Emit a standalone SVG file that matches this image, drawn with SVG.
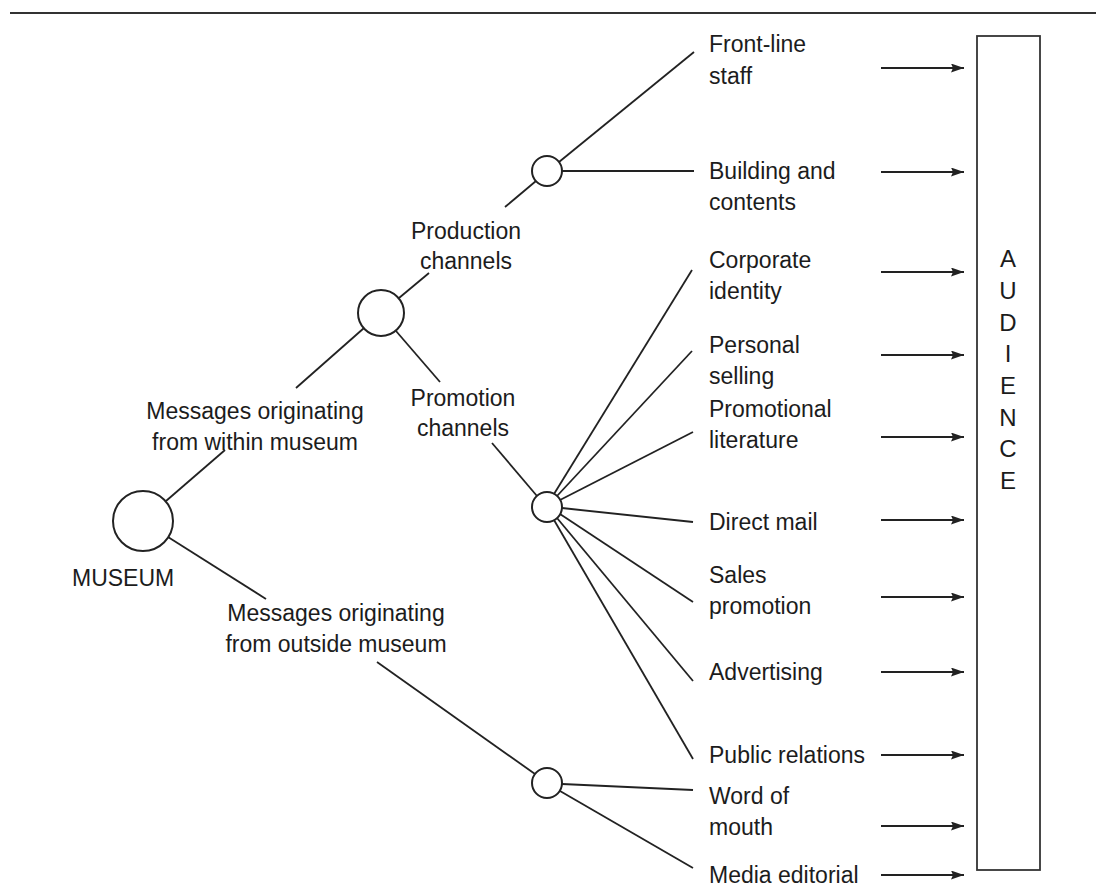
<svg xmlns="http://www.w3.org/2000/svg" width="1101" height="890" viewBox="0 0 1101 890">
<style>
.t{font-family:"Liberation Sans",Arial,sans-serif;font-size:23px;fill:#1c1c1c}
.c{text-anchor:middle}
.big{font-family:"Liberation Sans",Arial,sans-serif;font-size:24px;fill:#1c1c1c;text-anchor:middle}
.ln{stroke:#222;stroke-width:1.8;fill:none}
.nd{stroke:#222;stroke-width:2;fill:#fff}
.ar{stroke:#222;stroke-width:1.8;fill:none;marker-end:url(#ah)}
</style>
<defs>
<marker id="ah" markerUnits="userSpaceOnUse" markerWidth="13" markerHeight="9" refX="13" refY="4.5" orient="auto">
<path d="M0,0 L13,4.5 L0,9 L2,4.5 z" fill="#222"/>
</marker>
</defs>
<rect width="1101" height="890" fill="#fff"/>
<line x1="10" y1="13" x2="1096" y2="13" stroke="#333" stroke-width="2"/>

<g id="connectors">
<line class="ln" x1="166" y1="501" x2="225" y2="450"/>
<line class="ln" x1="296" y1="388" x2="364" y2="328"/>
<line class="ln" x1="168" y1="537" x2="266" y2="599"/>
<line class="ln" x1="377" y1="662" x2="535" y2="774"/>
<line class="ln" x1="399" y1="298" x2="429" y2="273"/>
<line class="ln" x1="505" y1="207" x2="536" y2="181"/>
<line class="ln" x1="396" y1="331" x2="440" y2="382"/>
<line class="ln" x1="492" y1="443" x2="537" y2="496"/>
<line class="ln" x1="559" y1="162" x2="694" y2="52"/>
<line class="ln" x1="562" y1="171" x2="694" y2="171"/>
<line class="ln" x1="554" y1="494" x2="692" y2="270"/>
<line class="ln" x1="557" y1="496" x2="692" y2="351"/>
<line class="ln" x1="560" y1="500" x2="693" y2="432"/>
<line class="ln" x1="562" y1="508" x2="693" y2="522"/>
<line class="ln" x1="560" y1="514" x2="693" y2="602"/>
<line class="ln" x1="557" y1="518" x2="693" y2="681"/>
<line class="ln" x1="554" y1="520" x2="693" y2="759"/>
<line class="ln" x1="562" y1="784" x2="693" y2="790"/>
<line class="ln" x1="560" y1="791" x2="693" y2="868"/>
<line class="ar" x1="881" y1="68" x2="964" y2="68"/>
<line class="ar" x1="881" y1="172" x2="964" y2="172"/>
<line class="ar" x1="881" y1="272" x2="964" y2="272"/>
<line class="ar" x1="881" y1="355" x2="964" y2="355"/>
<line class="ar" x1="881" y1="437" x2="964" y2="437"/>
<line class="ar" x1="881" y1="520" x2="964" y2="520"/>
<line class="ar" x1="881" y1="597" x2="964" y2="597"/>
<line class="ar" x1="881" y1="672" x2="964" y2="672"/>
<line class="ar" x1="881" y1="755" x2="964" y2="755"/>
<line class="ar" x1="881" y1="826" x2="964" y2="826"/>
<line class="ar" x1="881" y1="875" x2="964" y2="875"/>
</g>

<g id="museum">
<circle class="nd" cx="143" cy="521" r="30"/>
<text class="t" x="72" y="586">MUSEUM</text>
</g>
<g id="within-label"><text class="t c" x="255" y="419">Messages originating</text><text class="t c" x="255" y="450">from within museum</text></g>
<g id="outside-label"><text class="t c" x="336" y="621">Messages originating</text><text class="t c" x="336" y="652">from outside museum</text></g>
<g id="hub-within"><circle class="nd" cx="381" cy="313" r="23"/></g>
<g id="production-label"><text class="t c" x="466" y="239">Production</text><text class="t c" x="466" y="269">channels</text></g>
<g id="promotion-label"><text class="t c" x="463" y="406">Promotion</text><text class="t c" x="463" y="436">channels</text></g>
<g id="hub-production"><circle class="nd" cx="547" cy="171" r="15"/></g>
<g id="hub-promotion"><circle class="nd" cx="547" cy="507" r="15"/></g>
<g id="hub-outside"><circle class="nd" cx="547" cy="783" r="15"/></g>

<g id="front-line"><text class="t" x="709" y="52">Front-line</text><text class="t" x="709" y="84">staff</text></g>
<g id="building"><text class="t" x="709" y="179">Building and</text><text class="t" x="709" y="210">contents</text></g>
<g id="corporate"><text class="t" x="709" y="268">Corporate</text><text class="t" x="709" y="299">identity</text></g>
<g id="personal"><text class="t" x="709" y="353">Personal</text><text class="t" x="709" y="384">selling</text></g>
<g id="literature"><text class="t" x="709" y="417">Promotional</text><text class="t" x="709" y="448">literature</text></g>
<g id="direct-mail"><text class="t" x="709" y="530">Direct mail</text></g>
<g id="sales"><text class="t" x="709" y="583">Sales</text><text class="t" x="709" y="614">promotion</text></g>
<g id="advertising"><text class="t" x="709" y="680">Advertising</text></g>
<g id="public-relations"><text class="t" x="709" y="763">Public relations</text></g>
<g id="word-of-mouth"><text class="t" x="709" y="804">Word of</text><text class="t" x="709" y="835">mouth</text></g>
<g id="media-editorial"><text class="t" x="709" y="883">Media editorial</text></g>

<g id="audience">
<rect x="977" y="36" width="63" height="834" fill="#fff" stroke="#333" stroke-width="1.8"/>
<text class="big" x="1008" y="267">A</text>
<text class="big" x="1008" y="299">U</text>
<text class="big" x="1008" y="331">D</text>
<text class="big" x="1008" y="362">I</text>
<text class="big" x="1008" y="394">E</text>
<text class="big" x="1008" y="426">N</text>
<text class="big" x="1008" y="457">C</text>
<text class="big" x="1008" y="489">E</text>
</g>
</svg>
